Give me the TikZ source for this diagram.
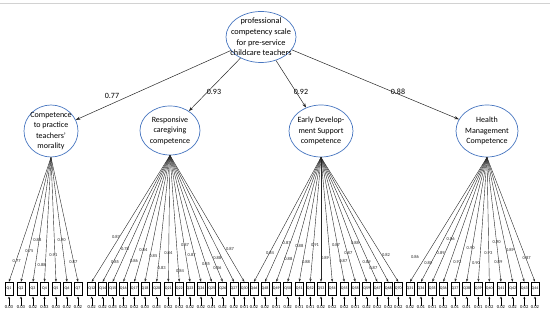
\documentclass[tikz,border=0pt]{standalone}
\usepackage{fontspec}
\setmainfont{Carlito}
\usetikzlibrary{shapes.geometric,arrows.meta}
\definecolor{ellblue}{RGB}{72,118,192}
\begin{document}
\begin{tikzpicture}[x=1pt,y=-1pt,
  latent/.style={ellipse,draw=ellblue,line width=0.7pt,inner sep=0pt},
  ltext/.style={align=center,inner sep=0pt,font=\fontsize{8}{10.4}\selectfont},
  obs/.style={rectangle,draw=black,line width=0.45pt,minimum width=8pt,minimum height=13pt,inner sep=0pt,font=\fontsize{4}{4}\selectfont},
  load/.style={draw=black!85,line width=0.4pt,-{Stealth[length=3pt,width=2.2pt]}},
  toparrow/.style={draw=black!85,line width=0.5pt,-{Stealth[length=4.5pt,width=3.2pt]}},
  err/.style={draw=black,line width=0.4pt,shorten >=1.5pt,-{Stealth[length=2pt,width=2pt]}},
  lbl/.style={font=\fontsize{4.5}{4.5}\selectfont,inner sep=0pt,text=black!85},
  elbl/.style={font=\fontsize{4.6}{4.6}\selectfont,inner sep=0pt},
  mlbl/.style={font=\fontsize{8}{8}\selectfont,inner sep=0pt}]
\useasboundingbox (0,0) rectangle (550,315);
\draw[gray!35,line width=0.6pt] (0,3) -- (550,3);

% top latent
\node[latent,minimum width=70pt,minimum height=51pt] (T) at (261,37) {};
\node[ltext,font=\fontsize{8.3}{10.6}\selectfont] (Tt) at (T.center) {professional\\competency scale\\for pre-service\\childcare teachers};

% first-order latents
\node[latent,minimum width=54pt,minimum height=52pt] (A) at (51,131) {};
\node[ltext] (At) at (A.center) {Competence\\to practice\\teachers'\\morality};
\node[latent,minimum width=60pt,minimum height=49pt] (B) at (170,130.5) {};
\node[ltext] (Bt) at (B.center) {Responsive\\caregiving\\competence};
\node[latent,minimum width=64pt,minimum height=52pt] (C) at (321,131) {};
\node[ltext] (Ct) at (C.center) {Early Develop-\\ment Support\\competence};
\node[latent,minimum width=62pt,minimum height=52pt] (D) at (487,131) {};
\node[ltext] (Dt) at (D.center) {Health\\Management\\Competence};

\draw[toparrow] (T) -- (A);
\draw[toparrow] (T) -- (B);
\draw[toparrow] (T) -- (C);
\draw[toparrow] (T) -- (D);
\node[mlbl] (m1) at (112,96) {0.77};
\node[mlbl] (m2) at (214,92) {0.93};
\node[mlbl] (m3) at (301,92) {0.92};
\node[mlbl] (m4) at (398,92) {0.88};

% indicators
\foreach \x/\q/\e in {9/Q1/0.03, 21/Q2/0.03, 33/Q3/0.02, 44.5/Q4/0.03, 56/Q5/0.03, 67/Q6/0.02, 78/Q7/0.02} {
  \node[obs] (\q) at (\x,288.5) {\q};
  \node[elbl] (e\q) at (\x,307.5) {\e};
  \draw[load] (A.south) -- (\q.north);
  \draw[err] (e\q.north) -- (\q.south);
}
\foreach \x/\q/\e in {91.7/Q12/0.02, 102.7/Q14/0.02, 112.7/Q15/0.03, 123.3/Q16/0.02, 134.3/Q17/0.02, 145/Q18/0.03, 156.7/Q20/0.03, 168.3/Q21/0.02, 179.3/Q22/0.02, 190/Q23/0.02, 201/Q24/0.02, 211.7/Q25/0.01, 222.7/Q26/0.02, 234/Q27/0.02, 244.3/Q30/0.01} {
  \node[obs] (\q) at (\x,288.5) {\q};
  \node[elbl] (e\q) at (\x,307.5) {\e};
  \draw[load] (B.south) -- (\q.north);
  \draw[err] (e\q.north) -- (\q.south);
}
\foreach \x/\q/\e in {254/Q46/0.02, 265/Q48/0.02, 276.3/Q49/0.01, 287.7/Q50/0.02, 299.3/Q51/0.01, 310.3/Q52/0.01, 321/Q53/0.02, 332.3/Q54/0.02, 344.3/Q55/0.02, 355.3/Q58/0.01, 366.7/Q59/0.02, 377.3/Q67/0.02, 388.3/Q68/0.02, 398.3/Q70/0.02} {
  \node[obs] (\q) at (\x,288.5) {\q};
  \node[elbl] (e\q) at (\x,307.5) {\e};
  \draw[load] (C.south) -- (\q.north);
  \draw[err] (e\q.north) -- (\q.south);
}
\foreach \x/\q/\e in {410/Q31/0.02, 421/Q34/0.01, 432.3/Q35/0.01, 443.3/Q36/0.02, 455/Q37/0.01, 466.7/Q38/0.01, 478.3/Q39/0.01, 489.3/Q40/0.02, 501/Q41/0.02, 512.7/Q42/0.02, 524.3/Q43/0.02, 535/Q44/0.02} {
  \node[obs] (\q) at (\x,288.5) {\q};
  \node[elbl] (e\q) at (\x,307.5) {\e};
  \draw[load] (D.south) -- (\q.north);
  \draw[err] (e\q.north) -- (\q.south);
}

% loading labels
\foreach \lx/\ly/\lv [count=\i] in {16.7/260.7/0.77, 29.3/250.7/0.75, 37.3/240/0.88, 41.7/265/0.88, 53.3/255/0.91, 61.7/240/0.90, 73.3/262.3/0.87,
  116/236.7/0.87, 125/249/0.78, 115/261.7/0.85, 134/260.7/0.86, 143.3/250/0.84, 153.3/256/0.85, 161.7/268.3/0.83, 168.3/253.3/0.84, 180/270.7/0.84, 185/245/0.87, 191.7/255/0.87, 206/264/0.85, 217.3/258.3/0.88, 217.3/268.3/0.86, 230/249.3/0.87,
  270/252.7/0.84, 286.7/242.7/0.87, 288.3/259.3/0.88, 299.3/246/0.88, 306/262.3/0.88, 315/245/0.91, 325/257.7/0.89, 336/245/0.87, 343.3/260.7/0.87, 348.3/253.3/0.87, 355/242.7/0.88, 366.7/261.7/0.89, 373.3/267.7/0.87, 386/255/0.82,
  415/256.7/0.86, 428.3/263.3/0.89, 440.7/252.7/0.89, 450.7/239/0.86, 457.3/261.7/0.92, 470.7/248.3/0.90, 476/263.3/0.90, 488.3/252.7/0.93, 496.7/241.7/0.90, 498.3/262.3/0.89, 510/250/0.89, 526.7/258.3/0.87} {
  \node[lbl] (l\i) at (\lx,\ly) {\lv};
}
\end{tikzpicture}
\end{document}
